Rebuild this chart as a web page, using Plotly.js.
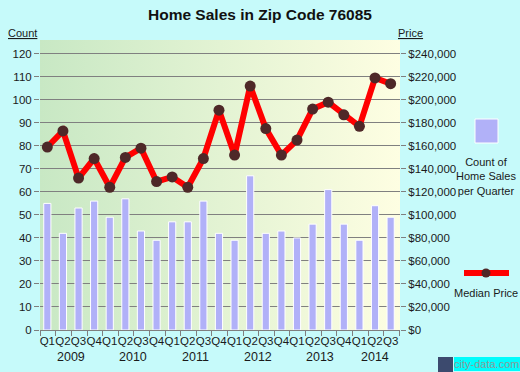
<!DOCTYPE html>
<html><head><meta charset="utf-8">
<script src="https://cdn.plot.ly/plotly-3.0.1.min.js"></script>
<style>html,body{margin:0;padding:0;background:#c6fafa;}#chart{width:520px;height:372px;}</style>
</head><body><div id="chart"></div>
<script>
// ---- data ----
const quarters = ['Q1','Q2','Q3','Q4','Q1','Q2','Q3','Q4','Q1','Q2','Q3','Q4','Q1','Q2','Q3','Q4','Q1','Q2','Q3','Q4','Q1','Q2','Q3'];
const years = ['2009','2010','2011','2012','2013','2014'];
const quartersPerYear = [4,4,4,4,4,3];
const counts = [55,42,53,56,49,57,43,39,47,47,56,42,39,67,42,43,40,46,61,46,39,54,49];
const prices = [159000,173000,132000,149000,124000,150000,158000,129000,133000,124000,149000,191000,152000,212000,175000,152000,165000,192000,198000,187000,177000,219000,214000];
const countTicks = [0,10,20,30,40,50,60,70,80,90,100,110,120];
const priceTicks = [0,20000,40000,60000,80000,100000,120000,140000,160000,180000,200000,220000,240000];
const priceTickText = priceTicks.map(v => '$' + v.toLocaleString('en-US'));

// ---- layout helpers ----
const W = 520, H = 372, ML = 40, MR = 120, MT = 40, MB = 42;
const PW = W - ML - MR, PH = H - MT - MB;
const px = x => (x - ML) / PW;
const py = y => (H - MB - y) / PH;
const idx = quarters.map((q, i) => i);

const font = 'Liberation Sans, Arial, sans-serif';
const txt = '#1a1a1a';

const grad = 'data:image/svg+xml;charset=utf-8,' + encodeURIComponent(
  '<svg xmlns="http://www.w3.org/2000/svg" width="360" height="290" preserveAspectRatio="none">' +
  '<defs><linearGradient id="g" x1="0" x2="1" y1="0" y2="0">' +
  '<stop offset="0" stop-color="#c8e8c4"/><stop offset="1" stop-color="#fefee2"/></linearGradient></defs>' +
  '<rect width="360" height="290" fill="url(#g)"/></svg>');

// year labels centred under their quarters
const yearAnn = [];
let start = 0;
years.forEach((y, k) => {
  const n = quartersPerYear[k];
  yearAnn.push({x: start + (n - 1) / 2, xref: 'x', y: py(357), yref: 'paper', text: y,
    showarrow: false, font: {family: font, size: 12.5, color: txt}, xanchor: 'center', yanchor: 'middle'});
  start += n;
});

const traces = [
  {type: 'bar', x: idx, y: counts, width: 0.46, yaxis: 'y',
   marker: {color: '#b1b1f8', line: {color: '#ffffff', width: 1}}, hoverinfo: 'skip'},
  {type: 'scatter', mode: 'lines+markers', x: idx, y: prices, yaxis: 'y2',
   line: {color: '#ff0000', width: 6}, marker: {color: '#4e2828', size: 11}, hoverinfo: 'skip'}
];

const layout = {
  width: W, height: H,
  margin: {l: ML, r: MR, t: MT, b: MB, pad: 0},
  paper_bgcolor: '#c6fafa', plot_bgcolor: 'rgba(0,0,0,0)',
  showlegend: false,
  font: {family: font, size: 11, color: txt},
  title: {text: '<b>Home Sales in Zip Code 76085</b>', xref: 'container', x: 0.5, xanchor: 'center',
          yref: 'container', y: 1 - 15 / H, yanchor: 'middle', font: {family: font, size: 15.5, color: '#111'}},
  images: [{source: grad, xref: 'paper', yref: 'paper', x: 0, y: 1, sizex: 1, sizey: 1,
            sizing: 'stretch', xanchor: 'left', yanchor: 'top', layer: 'below'}],
  xaxis: {range: [-0.47, 22.6], tickmode: 'array', tickvals: idx, ticktext: quarters, tickangle: 0,
          ticks: '', showgrid: false, zeroline: false, showline: true, linecolor: '#7f7f7f', linewidth: 1,
          tickfont: {family: font, size: 11.5, color: txt},
          minor: {tick0: -0.45, dtick: 1, ticks: 'outside', ticklen: 5, tickcolor: '#7f7f7f', tickwidth: 1, showgrid: false}},
  yaxis: {range: [0, 126], tickmode: 'array', tickvals: countTicks, ticks: 'outside', ticklen: 5,
          tickcolor: '#7f7f7f', showgrid: true, gridcolor: '#808080', gridwidth: 1, zeroline: false,
          showline: false, tickfont: {family: font, size: 11.5, color: txt}},
  yaxis2: {range: [0, 252000], overlaying: 'y', side: 'right', tickmode: 'array', tickvals: priceTicks,
           ticktext: priceTickText, ticks: 'outside', ticklen: 5, tickcolor: '#7f7f7f',
           showgrid: false, zeroline: false, showline: false, tickfont: {family: font, size: 11.5, color: txt}},
  shapes: [
    {type: 'rect', xref: 'paper', yref: 'paper', x0: px(475), x1: px(498), y0: py(143), y1: py(119),
     fillcolor: '#b1b1f8', line: {color: '#ffffff', width: 1}},
    {type: 'line', xref: 'paper', yref: 'paper', x0: px(464), x1: px(509), y0: py(273), y1: py(273),
     line: {color: '#ff0000', width: 6}},
    {type: 'circle', xref: 'paper', yref: 'paper', x0: px(481.5), x1: px(490.5), y0: py(277.5), y1: py(268.5),
     fillcolor: '#4e2828', line: {width: 0}},
    {type: 'rect', xref: 'paper', yref: 'paper', x0: px(438), x1: px(453), y0: py(372), y1: py(357),
     fillcolor: '#3c4a6e', line: {width: 0}},
    {type: 'rect', xref: 'paper', yref: 'paper', x0: px(454), x1: px(520), y0: py(371), y1: py(357),
     fillcolor: '#00fcfc', line: {width: 0}}
  ],
  annotations: yearAnn.concat([
    {x: px(22), y: py(33), xref: 'paper', yref: 'paper', text: '<u>Count</u>', showarrow: false,
     font: {family: font, size: 11, color: txt}, xanchor: 'center', yanchor: 'middle'},
    {x: px(411), y: py(33), xref: 'paper', yref: 'paper', text: '<u>Price</u>', showarrow: false,
     font: {family: font, size: 11, color: txt}, xanchor: 'center', yanchor: 'middle'},
    {x: px(486), y: py(177), xref: 'paper', yref: 'paper', text: 'Count of<br>Home Sales<br>per Quarter',
     showarrow: false, font: {family: font, size: 11, color: txt}, xanchor: 'center', yanchor: 'middle', align: 'center'},
    {x: px(486), y: py(293), xref: 'paper', yref: 'paper', text: 'Median Price', showarrow: false,
     font: {family: font, size: 11, color: txt}, xanchor: 'center', yanchor: 'middle'},
    {x: px(486), y: py(364), xref: 'paper', yref: 'paper', text: 'city-data.com', showarrow: false,
     font: {family: font, size: 11, color: '#8a9a9a'}, xanchor: 'center', yanchor: 'middle'}
  ])
};

Plotly.newPlot('chart', traces, layout, {staticPlot: true, displayModeBar: false});
</script>
</body></html>
